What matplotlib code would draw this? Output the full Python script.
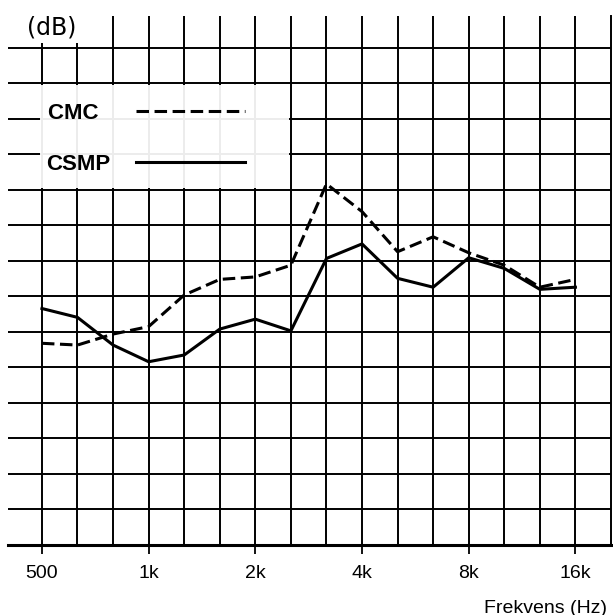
import numpy as np
import matplotlib
matplotlib.use("Agg")
import matplotlib.pyplot as plt
from matplotlib.patches import Rectangle

plt.rcParams['font.family'] = ['Liberation Sans', 'DejaVu Sans']
plt.rcParams['lines.scale_dashes'] = False

# third-octave bands (Hz)
bands = [500, 630, 800, 1000, 1250, 1600, 2000, 2500, 3150, 4000,
         5000, 6300, 8000, 10000, 12500, 16000]
tick_bands = [500, 1000, 2000, 4000, 8000, 16000]
tick_labels = ['500', '1k', '2k', '4k', '8k', '16k']

# level, in grid divisions above the bottom line
cmc = [5.67, 5.62, 5.93, 6.14, 7.03, 7.47, 7.54, 7.87, 10.16, 9.38,
       8.25, 8.67, 8.22, 7.87, 7.25, 7.47]
csmp = [6.65, 6.40, 5.62, 5.15, 5.34, 6.07, 6.35, 6.02, 8.06, 8.47,
        7.50, 7.25, 8.08, 7.78, 7.19, 7.25]
n_div = 14

fig = plt.figure(figsize=(6.13, 6.15), dpi=100)
ax = fig.add_axes([0.013, 0.1146, 0.9837, 0.8593])

x = np.arange(len(bands))
xmin, xmax = -0.955, 16.0
ymax = 14.89
ax.set_xlim(xmin, xmax)
ax.set_ylim(0, ymax)

# grid
gkw = dict(color='black', lw=1.4, zorder=1)
ax.hlines(np.arange(1, n_div + 1), xmin, xmax, **gkw)
tops = [n_div + 0.12 if b < 800 else ymax for b in bands]
ax.vlines(x, 0, tops, **gkw)

# grid half erased behind the legend
i0, i1 = bands.index(500), bands.index(2500)
ax.add_patch(Rectangle((i0 - 0.05, 10.04), i1 - i0, 2.92, facecolor='white',
                       edgecolor='none', alpha=0.93, zorder=2))

ax.plot(x, cmc, color='black', lw=2.2, dashes=(9, 4), label='CMC  ', zorder=3)
ax.plot(x, csmp, color='black', lw=2.2, label='CSMP', zorder=3)

leg = ax.legend(loc='upper left', bbox_to_anchor=(0.064, 0.835), frameon=False,
                markerfirst=False, prop={'weight': 'bold', 'size': 16},
                handlelength=4.9, handletextpad=1.15, labelspacing=1.35,
                borderpad=0, borderaxespad=0)
leg.set_zorder(5)

for s in ['left', 'top']:
    ax.spines[s].set_visible(False)
ax.spines['bottom'].set_linewidth(2.2)
ax.spines['right'].set_linewidth(1.4)

ax.set_xticks([bands.index(b) for b in tick_bands])
ax.set_xticklabels(tick_labels)
ax.tick_params(axis='x', length=6.5, width=1.3, pad=8, labelsize=14)
ax.set_yticks([])

fig.text(52 / 613, 1 - 28 / 615, '(dB)', ha='center', va='center',
         fontsize=17, family=['DejaVu Sans'])
fig.text(607 / 613, 0.004, 'Frekvens (Hz)', ha='right', va='baseline', fontsize=14)

fig.savefig('out.png', dpi=100)
